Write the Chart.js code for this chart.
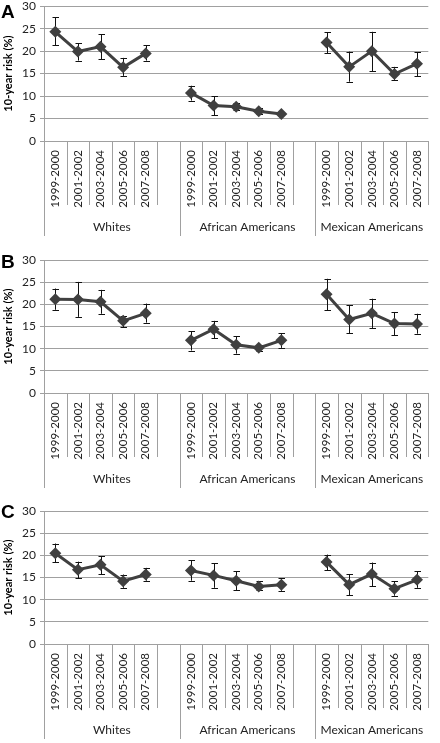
<!DOCTYPE html>
<html><head><meta charset="utf-8">
<script src="https://cdn.jsdelivr.net/npm/chart.js@4.4.1/dist/chart.umd.min.js"></script>
<style>
html,body{margin:0;padding:0;background:#fff;width:440px;height:743px;overflow:hidden;position:relative}
canvas{position:absolute;left:0}
.lbl{position:absolute;left:1px;font:bold 19px Arial,"Liberation Sans",sans-serif;line-height:19px;color:#000}
</style></head><body>
<canvas id="cA" width="440" height="242" style="top:-5px"></canvas>
<canvas id="cB" width="440" height="240" style="top:249px"></canvas>
<canvas id="cC" width="440" height="240" style="top:500px"></canvas>
<div class="lbl" style="top:2px">A</div>
<div class="lbl" style="top:252px">B</div>
<div class="lbl" style="top:502px">C</div>
<script>
const categories = ['1999-2000', '2001-2002', '2003-2004', '2005-2006', '2007-2008'];
const groups = ['Whites', 'African Americans', 'Mexican Americans'];
const yTicks = [0, 5, 10, 15, 20, 25, 30];

// Panel A (Whites x5, African Americans x5, Mexican Americans x5)
const riskA = [24.3, 19.9, 21.0, 16.4, 19.5, 10.7, 7.9, 7.6, 6.6, 6.0, 21.9, 16.5, 20.0, 14.9, 17.2];
const lowA  = [21.3, 17.9, 18.2, 14.5, 17.9, 9.0, 5.7, 6.8, 6.0, 5.7, 19.5, 13.2, 15.5, 13.5, 14.4];
const highA = [27.5, 21.7, 23.8, 18.5, 21.3, 12.3, 10.0, 8.4, 7.4, 6.3, 24.2, 19.9, 24.3, 16.5, 19.7];

// Panel B
const riskB = [21.2, 21.1, 20.6, 16.3, 18.0, 11.9, 14.4, 10.9, 10.2, 11.9, 22.3, 16.6, 18.0, 15.7, 15.6];
const lowB  = [18.8, 17.2, 17.9, 14.9, 15.9, 9.6, 12.4, 8.9, 9.4, 10.2, 18.7, 13.5, 14.7, 13.0, 13.4];
const highB = [23.6, 25.1, 23.3, 17.5, 20.2, 14.0, 16.3, 12.8, 10.8, 13.5, 25.8, 19.8, 21.3, 18.3, 17.9];

// Panel C
const riskC = [20.5, 16.8, 17.9, 14.2, 15.7, 16.6, 15.5, 14.3, 13.0, 13.4, 18.5, 13.4, 15.8, 12.5, 14.5];
const lowC  = [18.5, 14.9, 15.8, 12.7, 14.3, 14.3, 12.7, 12.1, 12.2, 12.0, 16.7, 11.0, 13.0, 10.9, 12.7];
const highC = [22.7, 18.6, 19.8, 15.7, 17.2, 18.9, 18.2, 16.4, 14.2, 14.8, 20.2, 15.8, 18.4, 14.2, 16.4];

// Build 17 slots: 5 categories + blank, 5 + blank, 5
function expand(arr) {
  const out = [];
  groups.forEach((g, gi) => {
    for (let k = 0; k < categories.length; k++) out.push(arr[gi * categories.length + k]);
    if (gi < groups.length - 1) out.push(null);
  });
  return out;
}
const labels = expand(groups.flatMap(() => categories)).map(v => v == null ? '' : v);
const groupStart = [];
(function(){ let s = 0; groups.forEach((g, gi) => { groupStart.push(s); s += categories.length + (gi < groups.length - 1 ? 1 : 0); }); groupStart.push(s); })();

const FONT = 'Lato, "Open Sans", sans-serif';

function decor(lo, hi) {
  return {
    id: 'decor',
    beforeDatasetsDraw(chart) {
      const {ctx, scales: {x, y}} = chart;
      ctx.save();
      ctx.strokeStyle = '#111';
      ctx.lineWidth = 1;
      lo.forEach((l, i) => {
        if (l == null) return;
        const px = Math.round(x.getPixelForValue(i)) + 0.5;
        const y1 = y.getPixelForValue(l), y2 = y.getPixelForValue(hi[i]);
        ctx.beginPath();
        ctx.moveTo(px, y1); ctx.lineTo(px, y2);
        ctx.moveTo(px - 3, Math.round(y1) + 0.5); ctx.lineTo(px + 3.5, Math.round(y1) + 0.5);
        ctx.moveTo(px - 3, Math.round(y2) + 0.5); ctx.lineTo(px + 3.5, Math.round(y2) + 0.5);
        ctx.stroke();
      });
      ctx.restore();
    },
    afterDraw(chart) {
      const {ctx, scales: {x}, chartArea} = chart;
      const n = labels.length;
      const w = (chartArea.right - chartArea.left) / n;
      const x0 = x.getPixelForValue(0) - w / 2;
      const bottom = chartArea.bottom;
      ctx.save();
      ctx.strokeStyle = '#a0a0a0';
      ctx.lineWidth = 1;
      for (let i = 0; i <= n; i++) {
        const px = Math.round(x0 + i * w) + 0.5;
        const long = groupStart.includes(i) && i < n;
        ctx.beginPath();
        ctx.moveTo(px, bottom);
        ctx.lineTo(px, bottom + (long ? 95 : 64));
        ctx.stroke();
      }
      ctx.fillStyle = '#222';
      ctx.font = '12px ' + FONT;
      ctx.textAlign = 'center';
      ctx.textBaseline = 'middle';
      groups.forEach((g, gi) => {
        const a = x.getPixelForValue(groupStart[gi]) - w / 2;
        const b = x.getPixelForValue(groupStart[gi + 1] - 1) + w / 2;
        ctx.fillText(g, (a + b) / 2, bottom + 86);
      });
      ctx.restore();
    }
  };
}

function makeChart(id, risk, lo, hi) {
  const l = expand(lo), h = expand(hi);
  return new Chart(document.getElementById(id), {
    type: 'line',
    data: {
      labels: labels,
      datasets: [{
        data: expand(risk),
        borderColor: '#404040',
        backgroundColor: '#404040',
        borderWidth: 3,
        pointStyle: 'rectRot',
        pointRadius: 6,
        pointHoverRadius: 6,
        pointBorderWidth: 0,
        spanGaps: false,
        tension: 0
      }]
    },
    options: {
      responsive: false,
      animation: false,
      events: [],
      layout: {padding: {top: 10, right: 2, left: 0, bottom: 0}},
      plugins: {legend: {display: false}, tooltip: {enabled: false}},
      scales: {
        x: {
          type: 'category',
          offset: true,
          grid: {display: true, drawOnChartArea: false, drawTicks: false, color: '#a0a0a0'},
          border: {display: true, color: '#a0a0a0'},
          ticks: {autoSkip: false, minRotation: 90, maxRotation: 90, padding: 9,
                  color: '#222', font: {family: FONT, size: 11.5}},
          afterFit(s) { s.height = 96; }
        },
        y: {
          min: 0, max: 30,
          afterBuildTicks(s) { s.ticks = yTicks.map(v => ({value: v})); },
          grid: {color: '#a0a0a0', tickLength: 4, lineWidth: 1},
          border: {display: true, color: '#a0a0a0'},
          ticks: {padding: 4, color: '#222', font: {family: FONT, size: 12}},
          title: {display: true, text: '10-year risk (%)', color: '#000',
                  font: {family: FONT, size: 11, weight: 'bold'}, padding: {top: 2, bottom: 2}},
          afterFit(s) { s.width = 44; }
        }
      }
    },
    plugins: [decor(l, h)]
  });
}

makeChart('cA', riskA, lowA, highA);
makeChart('cB', riskB, lowB, highB);
makeChart('cC', riskC, lowC, highC);
</script>
</body></html>
